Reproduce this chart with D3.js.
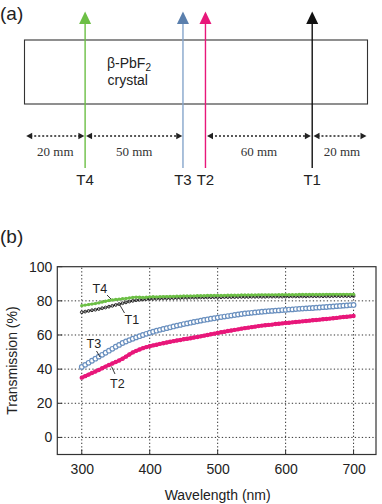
<!DOCTYPE html>
<html><head><meta charset="utf-8">
<script src="https://cdn.jsdelivr.net/npm/d3@7"></script>
<style>body{margin:0;background:#fff}svg{display:block}</style>
</head><body><svg id="c" width="382" height="504"></svg>
<script>
// ---------- data ----------
const wavelengths = d3.range(300, 701, 5);
const T1 = [73.3,73.7,74.1,74.5,74.8,75.2,75.7,76.1,76.6,77.1,77.6,78.1,78.6,79.1,79.6,80.0,80.4,80.6,80.8,81.0,81.1,81.2,81.3,81.4,81.5,81.5,81.6,81.6,81.7,81.7,81.8,81.8,81.9,81.9,81.9,82.0,82.0,82.0,82.1,82.1,82.1,82.1,82.2,82.2,82.2,82.2,82.3,82.3,82.3,82.3,82.4,82.4,82.4,82.4,82.4,82.5,82.5,82.5,82.5,82.5,82.5,82.6,82.6,82.6,82.6,82.6,82.6,82.7,82.7,82.7,82.7,82.7,82.7,82.7,82.8,82.8,82.8,82.8,82.8,82.8,82.8];
const T2 = [35.0,35.9,36.8,37.7,38.6,39.5,40.5,41.5,42.4,43.3,44.2,45.1,46.1,47.3,48.6,49.8,50.7,51.5,52.3,52.9,53.4,53.9,54.3,54.8,55.2,55.6,56.0,56.4,56.8,57.1,57.5,57.8,58.1,58.5,58.8,59.2,59.6,60.0,60.4,60.8,61.2,61.6,61.9,62.3,62.6,63.0,63.3,63.7,64.0,64.3,64.6,64.9,65.2,65.5,65.7,65.9,66.1,66.4,66.6,66.8,67.0,67.2,67.4,67.6,67.8,68.0,68.2,68.4,68.6,68.8,69.0,69.2,69.4,69.6,69.8,70.0,70.3,70.5,70.7,70.9,71.1];
const T3 = [41.3,42.5,43.7,44.9,46.1,47.3,48.4,49.6,50.8,51.9,53.1,54.2,55.3,56.2,57.0,57.8,58.6,59.3,60.0,60.7,61.3,61.9,62.5,63.0,63.5,64.0,64.5,65.0,65.5,65.9,66.4,66.8,67.2,67.6,68.0,68.4,68.8,69.1,69.5,69.8,70.2,70.5,70.8,71.1,71.4,71.7,72.0,72.3,72.6,72.8,73.0,73.2,73.4,73.6,73.8,74.0,74.1,74.3,74.4,74.6,74.7,74.9,75.0,75.2,75.3,75.5,75.6,75.7,75.8,76.0,76.1,76.3,76.4,76.6,76.7,76.9,77.0,77.2,77.3,77.5,77.6];
const T4 = [77.2,77.5,77.8,78.1,78.4,78.8,79.3,79.8,80.2,80.5,80.8,81.0,81.2,81.4,81.7,82.0,82.2,82.1,82.0,82.1,82.3,82.4,82.3,82.4,82.5,82.5,82.6,82.6,82.7,82.7,82.8,82.8,82.9,82.9,83.0,83.0,83.0,83.1,83.1,83.1,83.2,83.2,83.2,83.3,83.3,83.3,83.3,83.4,83.4,83.4,83.4,83.4,83.5,83.5,83.5,83.5,83.5,83.5,83.6,83.6,83.6,83.6,83.6,83.6,83.7,83.7,83.7,83.7,83.7,83.7,83.7,83.7,83.8,83.8,83.8,83.8,83.8,83.8,83.8,83.8,83.8];
const xTicks = [300, 400, 500, 600, 700];
const yTicks = [0, 20, 40, 60, 80, 100];
const probeNames = ["T4", "T3", "T2", "T1"];
const spacingLabels = ["20 mm", "50 mm", "60 mm", "20 mm"];

// ---------- styles / layout ----------
const COL = {T1: "#111111", T2: "#e8177a", T3: "#6a90bf", T4: "#6cbf45"};
const HEAD = {T1: "#111111", T2: "#e8177a", T3: "#5a7fad", T4: "#6cbf45"};
const SHAFT = {T1: "#111111", T2: "#e8177a", T3: "#86a5cb", T4: "#6cbf45"};
const SANS = "'Liberation Sans', Arial, Helvetica, sans-serif";
const SERIF = "'Liberation Serif', 'Times New Roman', serif";
const svg = d3.select("#c");

// ---------- panel (a) ----------
svg.append("text").attr("x", 0).attr("y", 20).attr("font-family", SANS).attr("font-size", 19).attr("fill", "#222").text("(a)");
svg.append("text").attr("x", 0).attr("y", 243).attr("font-family", SANS).attr("font-size", 19).attr("fill", "#222").text("(b)");

const crys = {x0: 24.5, x1: 367.5, y0: 40, y1: 104};
svg.append("rect").attr("x", crys.x0).attr("y", crys.y0).attr("width", crys.x1 - crys.x0).attr("height", crys.y1 - crys.y0)
  .attr("fill", "none").attr("stroke", "#333").attr("stroke-width", 1.1);
const ct = svg.append("text").attr("x", 107).attr("y", 68).attr("font-family", SANS).attr("font-size", 14).attr("fill", "#222");
ct.append("tspan").text("β-PbF");
ct.append("tspan").attr("font-size", 10).attr("dy", 3).text("2");
svg.append("text").attr("x", 107.5).attr("y", 85).attr("font-family", SANS).attr("font-size", 14).attr("fill", "#222").text("crystal");

// schematic scale along the crystal
const sx = d3.scaleLinear().domain([0, 1]).range([crys.x0, crys.x1]);
const probePos = {T4: 0.1767, T3: 0.4620, T2: 0.5276, T1: 0.8388};
probeNames.forEach(n => {
  const x = sx(probePos[n]);
  svg.append("line").attr("x1", x).attr("x2", x).attr("y1", 168).attr("y2", 22)
    .attr("stroke", SHAFT[n]).attr("stroke-width", 1.4);
  svg.append("path").attr("d", `M${x},11.5 L${x - 6},24 L${x + 6},24 Z`).attr("fill", HEAD[n]);
  svg.append("text").attr("x", x).attr("y", 185).attr("text-anchor", "middle").attr("font-family", SANS)
    .attr("font-size", 15).attr("fill", "#222").text(n);
});

// dimension arrows
const dimY = 136;
const segs = [[0.005, 0.1745], [0.1795, 0.4600], [0.5320, 0.8350], [0.8425, 0.997]];
function arrowHead(x, dir) {
  svg.append("path").attr("d", `M${x},${dimY} L${x - dir * 6},${dimY - 3.2} L${x - dir * 6},${dimY + 3.2} Z`).attr("fill", "#222");
}
segs.forEach((s, i) => {
  const a = sx(s[0]), b = sx(s[1]);
  svg.append("line").attr("x1", a + 4).attr("x2", b - 4).attr("y1", dimY).attr("y2", dimY)
    .attr("stroke", "#222").attr("stroke-width", 1.4).attr("stroke-dasharray", "2,2");
  arrowHead(a, -1); arrowHead(b, 1);
  svg.append("text").attr("x", (a + b) / 2 + (i === 3 ? 2 : 0)).attr("y", 156).attr("text-anchor", "middle")
    .attr("font-family", SERIF).attr("font-size", 13).attr("fill", "#333").text(spacingLabels[i]);
});

// ---------- panel (b) ----------
const x = d3.scaleLinear().domain([264, 733]).range([57.3, 376]);
const y = d3.scaleLinear().domain([-10, 100]).range([454.5, 266.7]);

const g = svg.append("g");
// grid
g.selectAll(".gx").data(xTicks).join("line").attr("x1", d => x(d)).attr("x2", d => x(d))
  .attr("y1", y(-10)).attr("y2", y(100)).attr("stroke", "#333").attr("stroke-width", 1).attr("stroke-dasharray", "1.3,2.2");
g.selectAll(".gy").data(yTicks.filter(d => d < 100)).join("line").attr("y1", d => y(d)).attr("y2", d => y(d))
  .attr("x1", x(264)).attr("x2", x(733)).attr("stroke", "#333").attr("stroke-width", 1).attr("stroke-dasharray", "1.3,2.2");

// axes
const xAxis = d3.axisBottom(x).tickValues(xTicks).tickSize(0).tickPadding(10);
const gx = svg.append("g").attr("transform", `translate(0,${y(-10)})`).call(xAxis);
gx.select(".domain").remove();
gx.selectAll("text").attr("font-family", SANS).attr("font-size", 14).attr("fill", "#222");
const yAxis = d3.axisLeft(y).tickValues(yTicks).tickSize(0).tickPadding(5);
const gy = svg.append("g").attr("transform", `translate(${x(264)},0)`).call(yAxis);
gy.select(".domain").remove();
gy.selectAll("text").attr("font-family", SANS).attr("font-size", 14).attr("fill", "#222");
// inner ticks
g.selectAll(".tx").data(xTicks).join("line").attr("x1", d => x(d)).attr("x2", d => x(d))
  .attr("y1", y(-10)).attr("y2", y(-10) - 5).attr("stroke", "#333").attr("stroke-width", 1);
g.selectAll(".ty").data(yTicks).join("line").attr("y1", d => y(d)).attr("y2", d => y(d))
  .attr("x1", x(264)).attr("x2", x(264) + 5).attr("stroke", "#333").attr("stroke-width", 1);
// frame
svg.append("rect").attr("x", x(264)).attr("y", y(100)).attr("width", x(733) - x(264)).attr("height", y(-10) - y(100))
  .attr("fill", "none").attr("stroke", "#333").attr("stroke-width", 1.2);

// titles
svg.append("text").attr("x", x(500)).attr("y", 500).attr("text-anchor", "middle").attr("font-family", SANS)
  .attr("font-size", 14).attr("fill", "#222").text("Wavelength (nm)");
svg.append("text").attr("transform", `translate(17,${y(45)}) rotate(-90)`).attr("text-anchor", "middle")
  .attr("font-family", SANS).attr("font-size", 14).attr("fill", "#222").text("Transmission (%)");

// series
const series = [
  {name: "T1", vals: T1, r: 1.4, fill: "none", sw: 0.9, line: 1.0},
  {name: "T4", vals: T4, r: 1.7, fill: COL.T4, sw: 0, line: 2.0},
  {name: "T3", vals: T3, r: 2.3, fill: "#fff", sw: 1.2, line: 0},
  {name: "T2", vals: T2, r: 2.2, fill: COL.T2, sw: 0, line: 3.4}
];
const line = d3.line().x((d, i) => x(wavelengths[i])).y(d => y(d));
series.forEach(s => {
  if (s.line) svg.append("path").attr("d", line(s.vals)).attr("fill", "none").attr("stroke", COL[s.name])
    .attr("stroke-width", s.line).attr("opacity", s.name === "T1" ? 0.6 : 1);
  svg.append("g").selectAll("circle").data(s.vals).join("circle")
    .attr("cx", (d, i) => x(wavelengths[i])).attr("cy", d => y(d)).attr("r", s.r)
    .attr("fill", s.fill === "none" ? "none" : s.fill)
    .attr("stroke", s.sw ? COL[s.name] : "none").attr("stroke-width", s.sw);
});

// in-plot labels with leader lines
const ann = [
  {t: "T4", tx: 92.5, ty: 293, l: [[107, 295], [111, 299]]},
  {t: "T1", tx: 124.5, ty: 323.5, l: [[119.5, 304.5], [124.5, 313]]},
  {t: "T3", tx: 86.5, ty: 347.5, l: [[96.5, 351], [100, 357]]},
  {t: "T2", tx: 110, ty: 387.5, l: [[111.5, 366.5], [115, 374]]}
];
ann.forEach(a => {
  svg.append("text").attr("x", a.tx).attr("y", a.ty).attr("font-family", SANS).attr("font-size", 12.5).attr("fill", "#222").text(a.t);
  svg.append("line").attr("x1", a.l[0][0]).attr("y1", a.l[0][1]).attr("x2", a.l[1][0]).attr("y2", a.l[1][1])
    .attr("stroke", "#222").attr("stroke-width", 0.9);
});
</script></body></html>
